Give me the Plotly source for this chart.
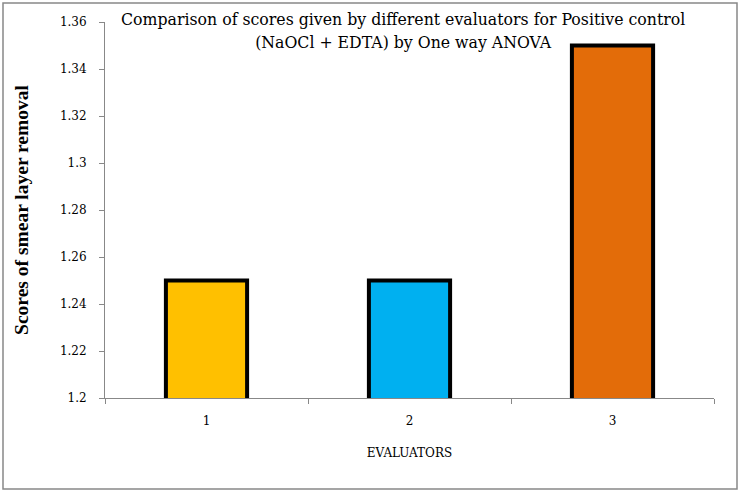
import plotly.graph_objects as go

evaluators = ["1", "2", "3"]
scores = [1.25, 1.25, 1.35]
bar_colors = ["#FFC000", "#00B0F0", "#E36C09"]
y_ticks = [1.2, 1.22, 1.24, 1.26, 1.28, 1.3, 1.32, 1.34, 1.36]
y_tick_labels = ["1.2", "1.22", "1.24", "1.26", "1.28", "1.3", "1.32", "1.34", "1.36"]

fig = go.Figure()
fig.add_trace(go.Bar(
    x=evaluators, y=scores, width=0.4,
    marker=dict(color=bar_colors, line=dict(color="black", width=4)),
))

serif = "DejaVu Serif, serif"
title_font = "DejaVu Serif Condensed, DejaVu Serif, serif"
times = "Liberation Serif, serif"
fig.update_layout(
    width=741, height=494,
    margin=dict(l=105, r=27, t=22, b=96),
    paper_bgcolor="white", plot_bgcolor="white",
    showlegend=False,
    font=dict(family=serif, color="black", size=12),
    xaxis=dict(
        type="category",
        showline=True, linecolor="#888888", linewidth=1,
        ticks="outside", ticklen=5, tickcolor="#888888",
        tickson="boundaries",
        ticklabelstandoff=12,
        tickfont=dict(size=12, family=serif),
        title=dict(text="EVALUATORS", font=dict(size=12, family=serif), standoff=21),
        showgrid=False,
    ),
    yaxis=dict(
        range=[1.2, 1.36],
        tickvals=y_ticks, ticktext=y_tick_labels,
        showline=True, linecolor="#888888", linewidth=1,
        ticks="outside", ticklen=5, tickcolor="#888888",
        ticklabelstandoff=10,
        tickfont=dict(size=12, family=serif),
        showgrid=False, zeroline=False,
        title=dict(text="<b>Scores of smear layer removal</b>",
                   font=dict(size=19.5, family=times), standoff=26),
    ),
    annotations=[dict(
        text="Comparison of scores given by different evaluators for Positive control<br>(NaOCl + EDTA) by One way ANOVA",
        x=0.49, y=1.04, xref="paper", yref="paper", xanchor="center", yanchor="top",
        showarrow=False, font=dict(size=17.5, family=title_font), align="center",
    )],
    shapes=[dict(
        type="rect", xref="paper", yref="paper",
        x0=-102/609, x1=1 + 23/609, y0=-91/376, y1=1 + 19/376,
        line=dict(color="#888888", width=1.5), fillcolor="rgba(0,0,0,0)", layer="below",
    )],
)

fig.write_html("out.html", config={"displayModeBar": False},
               post_script="document.body.style.margin='0';")
